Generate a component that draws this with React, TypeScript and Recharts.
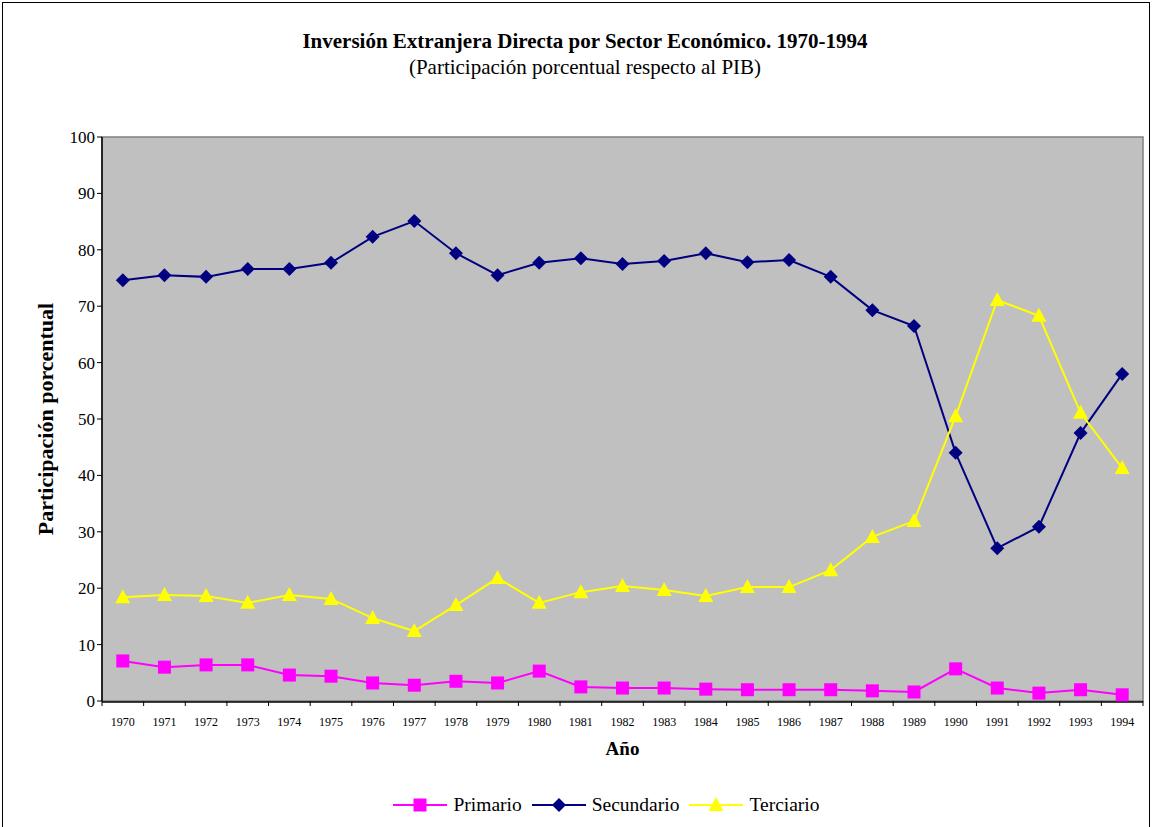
import React from "react";
import {
  LineChart,
  Line,
  XAxis,
  YAxis,
  Legend,
  CartesianGrid,
  ReferenceArea,
} from "recharts";

const years = [
  "1970", "1971", "1972", "1973", "1974", "1975", "1976", "1977", "1978",
  "1979", "1980", "1981", "1982", "1983", "1984", "1985", "1986", "1987",
  "1988", "1989", "1990", "1991", "1992", "1993", "1994",
];

const primario = [
  7.1, 6.0, 6.4, 6.4, 4.6, 4.4, 3.2, 2.8, 3.5, 3.2, 5.3, 2.5, 2.3, 2.3, 2.1,
  2.0, 2.0, 2.0, 1.8, 1.6, 5.7, 2.3, 1.4, 2.0, 1.1,
];

const secundario = [
  74.6, 75.5, 75.2, 76.6, 76.6, 77.7, 82.3, 85.1, 79.4, 75.5, 77.7, 78.5,
  77.5, 78.0, 79.4, 77.8, 78.2, 75.2, 69.3, 66.5, 44.0, 27.1, 30.9, 47.5, 58.0,
];

const terciario = [
  18.4, 18.8, 18.6, 17.4, 18.8, 18.1, 14.7, 12.4, 17.0, 21.8, 17.4, 19.3,
  20.4, 19.7, 18.6, 20.2, 20.2, 23.2, 29.1, 31.9, 50.5, 71.1, 68.3, 51.1, 41.3,
];

const yTicks = [0, 10, 20, 30, 40, 50, 60, 70, 80, 90, 100];
const bandTicks = Array.from({ length: years.length + 1 }, (_, i) => i);

const data = years.map((year, i) => ({
  year,
  band: i + 0.5,
  primario: primario[i],
  secundario: secundario[i],
  terciario: terciario[i],
}));

const SERIF = "'Liberation Serif', 'Times New Roman', serif";

const COLORS = {
  primario: "#ff00ff",
  secundario: "#000080",
  terciario: "#ffff00",
};

function Square({ cx, cy, color }: any) {
  if (cx == null || cy == null) return null;
  return <rect x={cx - 6.5} y={cy - 6.5} width={13} height={13} fill={color} />;
}

function Diamond({ cx, cy, color }: any) {
  if (cx == null || cy == null) return null;
  const r = 7;
  return (
    <polygon
      points={`${cx},${cy - r} ${cx + r},${cy} ${cx},${cy + r} ${cx - r},${cy}`}
      fill={color}
    />
  );
}

function Triangle({ cx, cy, color }: any) {
  if (cx == null || cy == null) return null;
  return (
    <polygon
      points={`${cx},${cy - 8} ${cx + 7.5},${cy + 6} ${cx - 7.5},${cy + 6}`}
      fill={color}
    />
  );
}

const markers: Record<string, any> = {
  primario: Square,
  secundario: Diamond,
  terciario: Triangle,
};

function LegendContent({ payload }: any) {
  return (
    <div
      style={{
        display: "flex",
        justifyContent: "center",
        alignItems: "center",
        fontFamily: SERIF,
        fontSize: 19.5,
        color: "#000",
        paddingLeft: 40,
      }}
    >
      {(payload || []).map((p: any) => {
        const Marker = markers[p.dataKey];
        const color = COLORS[p.dataKey as keyof typeof COLORS];
        return (
          <div
            key={p.dataKey}
            style={{ display: "flex", alignItems: "center", marginRight: 10 }}
          >
            <svg width={54} height={20}>
              <line x1={0} y1={10} x2={54} y2={10} stroke={color} strokeWidth={2} />
              <Marker cx={27} cy={10} color={color} />
            </svg>
            <span style={{ marginLeft: 6 }}>{p.value}</span>
          </div>
        );
      })}
    </div>
  );
}

export default function App() {
  return (
    <div
      style={{
        position: "absolute",
        left: 0,
        top: 0,
        width: 1154,
        height: 827,
        background: "#fff",
        overflow: "hidden",
      }}
    >
      <div
        style={{
          position: "absolute",
          left: 2,
          top: 2,
          width: 1148,
          height: 840,
          border: "1px solid #000",
          boxSizing: "border-box",
        }}
      />
      <div
        style={{
          position: "absolute",
          left: 0,
          top: 28,
          width: 1170,
          textAlign: "center",
          fontFamily: SERIF,
          color: "#000",
        }}
      >
        <div style={{ fontWeight: "bold", fontSize: 21, lineHeight: "26px" }}>
          Inversión Extranjera Directa por Sector Económico. 1970-1994
        </div>
        <div style={{ fontSize: 21, lineHeight: "26px", marginTop: 0 }}>
          (Participación porcentual respecto al PIB)
        </div>
      </div>
      <LineChart
        width={1154}
        height={827}
        data={data}
        margin={{ top: 137, right: 11, left: 40, bottom: 9 }}
        style={{ position: "absolute", left: 0, top: 0 }}
      >
        <CartesianGrid
          xAxisId="year"
          horizontal={false}
          vertical={false}
          fill="#c0c0c0"
          fillOpacity={1}
        />
        <XAxis
          xAxisId="band"
          dataKey="band"
          type="number"
          domain={[0, years.length]}
          ticks={bandTicks}
          interval={0}
          tickFormatter={() => ""}
          tickSize={5}
          tickLine={{ stroke: "#000" }}
          axisLine={false}
          height={1}
          allowDataOverflow
        />
        <XAxis
          xAxisId="year"
          dataKey="year"
          padding={{ left: 20.8, right: 20.8 }}
          interval={0}
          tickLine={false}
          axisLine={{ stroke: "#000", strokeWidth: 1.5 }}
          tick={{ fontFamily: SERIF, fontSize: 12, fill: "#000" }}
          tickMargin={9}
          height={92}
          label={{
            value: "Año",
            position: "center",
            dy: 0,
            style: { fontFamily: SERIF, fontSize: 19, fontWeight: "bold", fill: "#000" },
          }}
        />
        <YAxis
          domain={[0, 100]}
          ticks={yTicks}
          interval={0}
          width={62}
          tickSize={5}
          tickLine={{ stroke: "#000" }}
          axisLine={{ stroke: "#000", strokeWidth: 1.5 }}
          tick={{ fontFamily: SERIF, fontSize: 17, fill: "#000" }}
          label={{
            value: "Participación porcentual",
            angle: -90,
            position: "center",
            dx: -26,
            style: { fontFamily: SERIF, fontSize: 22, fontWeight: "bold", fill: "#000", textAnchor: "middle" },
          }}
        />
        <ReferenceArea
          xAxisId="band"
          x1={0}
          x2={years.length}
          y1={0}
          y2={100}
          fill="none"
          stroke="#808080"
          strokeWidth={1.5}
          ifOverflow="visible"
        />
        <Legend verticalAlign="bottom" height={24} content={<LegendContent />} />
        <Line
          xAxisId="year"
          dataKey="primario"
          name="Primario"
          stroke={COLORS.primario}
          strokeWidth={2}
          dot={<Square color={COLORS.primario} />}
          activeDot={false}
          isAnimationActive={false}
        />
        <Line
          xAxisId="year"
          dataKey="secundario"
          name="Secundario"
          stroke={COLORS.secundario}
          strokeWidth={2}
          dot={<Diamond color={COLORS.secundario} />}
          activeDot={false}
          isAnimationActive={false}
        />
        <Line
          xAxisId="year"
          dataKey="terciario"
          name="Terciario"
          stroke={COLORS.terciario}
          strokeWidth={2}
          dot={<Triangle color={COLORS.terciario} />}
          activeDot={false}
          isAnimationActive={false}
        />
      </LineChart>
    </div>
  );
}
